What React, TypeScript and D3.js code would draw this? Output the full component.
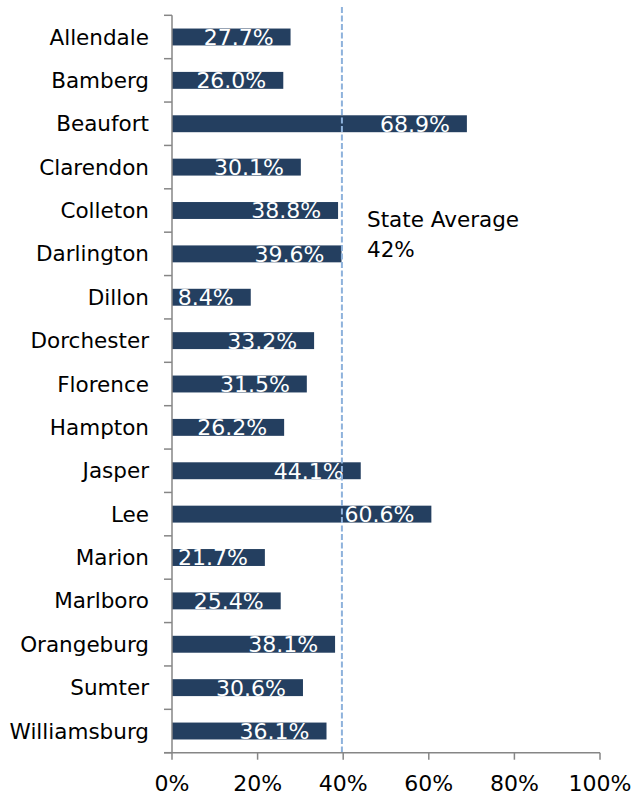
import React from "react";
import * as d3 from "d3";

const categories = [
  "Allendale", "Bamberg", "Beaufort", "Clarendon", "Colleton", "Darlington",
  "Dillon", "Dorchester", "Florence", "Hampton", "Jasper", "Lee", "Marion",
  "Marlboro", "Orangeburg", "Sumter", "Williamsburg",
];
const values = [27.7, 26.0, 68.9, 30.1, 38.8, 39.6, 18.4, 33.2, 31.5, 26.2, 44.1, 60.6, 21.7, 25.4, 38.1, 30.6, 36.1];
const valueLabels = ["27.7%", "26.0%", "68.9%", "30.1%", "38.8%", "39.6%", "8.4%", "33.2%", "31.5%", "26.2%", "44.1%", "60.6%", "21.7%", "25.4%", "38.1%", "30.6%", "36.1%"];
const xTicks = [0, 20, 40, 60, 80, 100];
const averageLine = 39.7;
const averageLabel = ["State Average", "42%"];

const W = 636, H = 797;
const left = 172, right = 600, top = 15.3, bottom = 752.7;
const FONT = "'DejaVu Sans', sans-serif";

export default function App() {
  const x = d3.scaleLinear().domain([0, 100]).range([left, right]);
  const y = d3.scaleBand<string>().domain(categories).range([top, bottom]).paddingInner(0.61).paddingOuter(0.305);
  const band = d3.scaleBand<string>().domain(categories).range([top, bottom]);
  const bars = categories.map((c, i) => ({ c, v: values[i], label: valueLabels[i] }));
  const tickYs = [...categories.map((c) => band(c)!), bottom];
  return (
    <svg width={W} height={H} style={{ position: "absolute", left: 0, top: 0, background: "#fff" }} fontFamily={FONT}>
      <defs>
        {bars.map((b, i) => (
          <clipPath id={`clip${i}`} key={i}>
            <rect x={x(0)} y={y(b.c)!} width={x(b.v) - x(0)} height={y.bandwidth()} />
          </clipPath>
        ))}
      </defs>
      {bars.map((b, i) => (
        <g key={b.c}>
          <rect x={x(0)} y={y(b.c)!} width={x(b.v) - x(0)} height={y.bandwidth()} fill="#243f60" />
          <text
            x={x(b.v) - 17}
            y={y(b.c)! + y.bandwidth() - 0.5}
            textAnchor="end"
            fontSize={22}
            fill="#fff"
            clipPath={`url(#clip${i})`}
          >
            {b.label}
          </text>
          <text x={149} y={band(b.c)! + band.bandwidth() / 2} dy="0.35em" textAnchor="end" fontSize={21.5} fill="#000">
            {b.c}
          </text>
        </g>
      ))}
      <line x1={x(averageLine)} x2={x(averageLine)} y1={7} y2={bottom} stroke="#8eb2dc" strokeWidth={2} strokeDasharray="6,2.5" />
      <text x={367} y={227} fontSize={21.5} fill="#000">{averageLabel[0]}</text>
      <text x={367} y={256.7} fontSize={21.5} fill="#000">{averageLabel[1]}</text>
      {/* y axis */}
      <line x1={left} x2={left} y1={top} y2={bottom} stroke="#868686" strokeWidth={1.5} />
      {tickYs.map((t, i) => (
        <line key={i} x1={left - 8} x2={left} y1={t} y2={t} stroke="#868686" strokeWidth={1.5} />
      ))}
      {/* x axis */}
      <line x1={left - 8} x2={right} y1={bottom} y2={bottom} stroke="#868686" strokeWidth={1.5} />
      {xTicks.map((t) => (
        <g key={t}>
          <line x1={x(t)} x2={x(t)} y1={bottom} y2={bottom + 7} stroke="#868686" strokeWidth={1.5} />
          <text x={x(t)} y={791} textAnchor="middle" fontSize={22} fill="#000">{`${t}%`}</text>
        </g>
      ))}
    </svg>
  );
}
